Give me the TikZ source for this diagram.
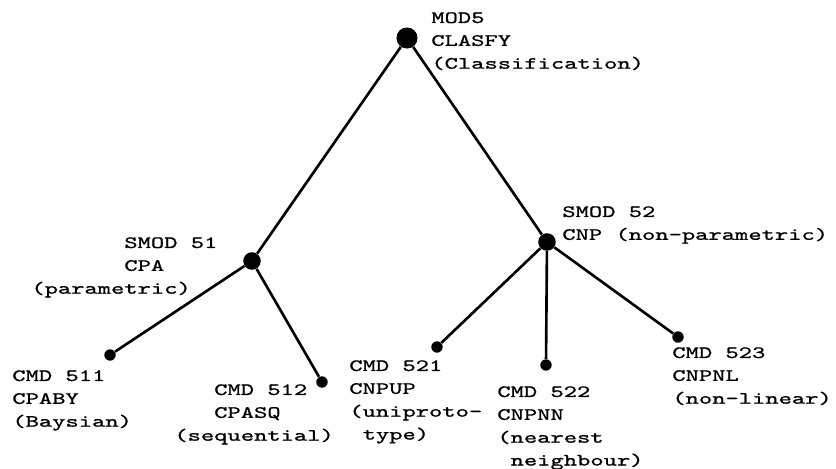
\documentclass[tikz,border=0pt]{standalone}
\usepackage{fontspec}
\setmonofont[FakeStretch=1.47,FakeBold=1]{lmmono10-regular.otf}

% stacked lines of a label, baseline on the first one
\newcommand{\rows}[1]{\begin{tabular}[t]{@{}l@{}}#1\end{tabular}}

\begin{document}
\begin{tikzpicture}[x=0.02cm, y=-0.02cm]
        \tikzset{
            dot/.style={
                circle,
                fill=black,
                inner sep=0pt,
                minimum size=#1
            },
            branch/.style={black, line width=1.5pt},
            lbl/.style={
                anchor=base west,
                inner sep=0pt,
                font=\ttfamily\fontsize{9.8}{13}\selectfont
            }
        }
        \useasboundingbox (0,0) rectangle (836,469);

        % module, submodules, commands
        \node[dot=12pt] (mod) at (407,38) {};
        \node[dot=10pt] (smodA) at (252,261) {};
        \node[dot=10pt] (smodB) at (547,242) {};

        \node[dot=6.5pt] (cmdA) at (110,355) {};
        \node[dot=6.5pt] (cmdB) at (322,382) {};
        \node[dot=6.5pt] (cmdC) at (437,347) {};
        \node[dot=6.5pt] (cmdD) at (546,365) {};
        \node[dot=6.5pt] (cmdE) at (678,337) {};

        \draw[branch] (mod) -- (smodA);
        \draw[branch] (mod) -- (smodB);
        \draw[branch] (smodA) -- (cmdA);
        \draw[branch] (smodA) -- (cmdB);
        \draw[branch] (smodB) -- (cmdC);
        \draw[branch] (smodB) -- (cmdD);
        \draw[branch] (smodB) -- (cmdE);

        %labels
        \node[lbl] (modtxt) at (431,23) {\rows{MOD5\\CLASFY\\(Classification)}};
        \node[lbl] (smodAtxt) at (31,248) {\rows{~~~~~~~SMOD 51\\~~~~~~~CPA\\(parametric)}};
        \node[lbl] (smodBtxt) at (562,217) {\rows{SMOD 52\\CNP (non-parametric)}};

        \node[lbl] (cmdAtxt) at (12,381) {\rows{CMD 511\\CPABY\\(Baysian)}};
        \node[lbl] (cmdBtxt) at (174,395) {\rows{~~~CMD 512\\~~~CPASQ\\(sequential)}};
        \node[lbl] (cmdCtxt) at (349,371) {\rows{CMD 521\\CNPUP\\(uniproto-\\~type)}};
        \node[lbl] (cmdDtxt) at (497,397) {\rows{CMD 522\\CNPNN\\(nearest\\~neighbour)}};
        \node[lbl] (cmdEtxt) at (672,358) {\rows{CMD 523\\CNPNL\\(non-linear)}};

    \end{tikzpicture}
\end{document}
